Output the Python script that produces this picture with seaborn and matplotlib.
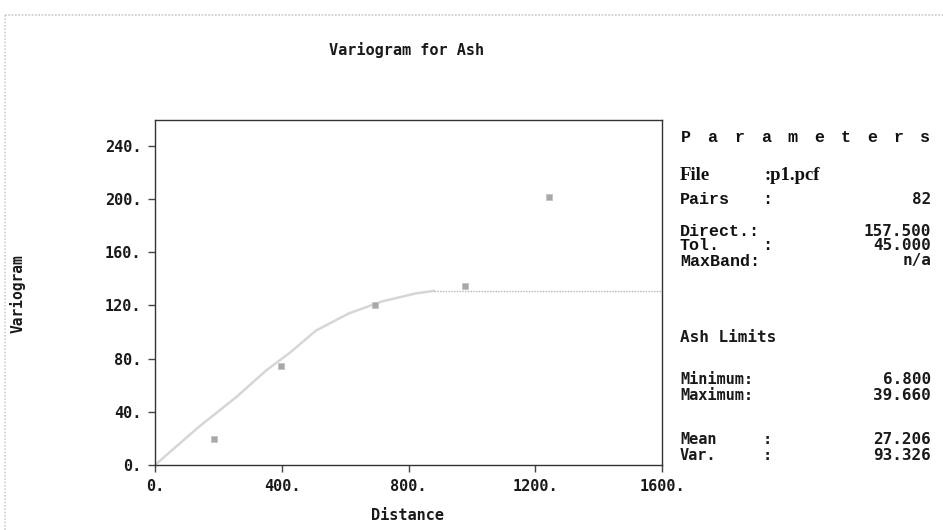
import matplotlib
matplotlib.use("Agg")
import matplotlib.pyplot as plt
import seaborn as sns
import pandas as pd
from matplotlib.lines import Line2D

# ---- data ----
lag_distance = [185, 397, 693, 979, 1243]
lag_gamma = [19.5, 74.5, 120.5, 134.5, 201.5]
model_x = [0, 140, 256, 350, 423, 507, 611, 716, 821, 880]
model_y = [0, 29, 51, 71, 84, 101, 114, 123, 129, 131]
sill_x = [880, 1600]
sill_y = [131, 131]
x_ticks = [0, 400, 800, 1200, 1600]
x_tick_labels = ["0.", "400.", "800.", "1200.", "1600."]
y_ticks = [0, 40, 80, 120, 160, 200, 240]
y_tick_labels = ["0.", "40.", "80.", "120.", "160.", "200.", "240."]

param_rows = [
    # (label, colon_separate, value)
    ("Pairs", True, "82"),
    ("Direct.:", False, "157.500"),
    ("Tol.", True, "45.000"),
    ("MaxBand:", False, "n/a"),
]
limit_rows = [
    ("Minimum:", False, "6.800"),
    ("Maximum:", False, "39.660"),
    ("Mean", True, "27.206"),
    ("Var.", True, "93.326"),
]

sns.set_theme(style="white")
plt.rcParams["font.family"] = ["DejaVu Sans Mono", "DejaVu Sans"]

W, H = 943, 530
fig = plt.figure(figsize=(W / 100, H / 100), dpi=100)
fig.patch.set_facecolor("white")

def fx(px):
    return px / W

def fy(py):
    return 1 - py / H

ax = fig.add_axes([fx(155.3), fy(464.7), (662 - 155.3) / W, (464.7 - 120.3) / H])

df_pts = pd.DataFrame({"Distance": lag_distance, "Variogram": lag_gamma})
df_model = pd.DataFrame({"x": model_x, "y": model_y})
df_sill = pd.DataFrame({"x": sill_x, "y": sill_y})

sns.lineplot(data=df_model, x="x", y="y", ax=ax, color="#d6d6d6", linewidth=1.8,
             sort=False)
sns.lineplot(data=df_sill, x="x", y="y", ax=ax, color="#b4b4b4", linewidth=1.0,
             linestyle=(0, (1, 1)), sort=False)
sns.scatterplot(data=df_pts, x="Distance", y="Variogram", ax=ax, color="#a8a8a8",
                marker="s", s=20, edgecolor="#c4c4c4", linewidth=0.6, zorder=5)

ax.set_xlim(0, 1592)
ax.set_ylim(0, 259.5)
ax.set_xticks(x_ticks)
ax.set_xticklabels(x_tick_labels)
ax.set_yticks(y_ticks)
ax.set_yticklabels(y_tick_labels)
ax.set_xlabel("")
ax.set_ylabel("")
for lab in ax.get_xticklabels() + ax.get_yticklabels():
    lab.set_fontweight("bold")
    lab.set_fontsize(11)
    lab.set_color("#1a1a1a")
ax.tick_params(axis="both", direction="out", length=5, width=1, color="#444444",
               left=True, bottom=True, pad=5)
for sp in ax.spines.values():
    sp.set_visible(True)
    sp.set_color("#333333")
    sp.set_linewidth(1.0)
ax.set_facecolor("white")

mono = dict(family=["DejaVu Sans Mono"], fontweight="bold", color="#1a1a1a")
cour = dict(family=["Liberation Mono"], fontweight="bold", color="#111111")
serif = dict(family=["Liberation Serif"], fontweight="bold", color="#111111")

# titles / axis labels
fig.text(fx(407), fy(50), "Variogram for Ash", ha="center", va="center", fontsize=11, **mono)
fig.text(fx(407), fy(516), "Distance", ha="center", va="center", fontsize=11, **mono)
fig.text(fx(18), fy(294), "Variogram", ha="center", va="center", rotation=90, fontsize=10.5, **mono)

# Parameters heading, spaced letters
word = "Parameters"
start, step = 686, 26.6
for i, ch in enumerate(word):
    fig.text(fx(start + i * step), fy(137), ch, ha="center", va="center", fontsize=12, **cour)

# File line
fig.text(fx(680), fy(175), "File", ha="left", va="center", fontsize=13.5, **serif)
fig.text(fx(765), fy(175), ":p1.pcf", ha="left", va="center", fontsize=13.5, **serif)

ys1 = [200, 232, 246, 261]
for (lab, sep, val), y in zip(param_rows, ys1):
    fig.text(fx(680), fy(y), lab, ha="left", va="center", fontsize=12, **cour)
    if sep:
        fig.text(fx(767), fy(y), ":", ha="center", va="center", fontsize=12, **cour)
    fig.text(fx(931), fy(y), val, ha="right", va="center", fontsize=11.5, **mono)

fig.text(fx(680), fy(338), "Ash Limits", ha="left", va="center", fontsize=11.5, **mono)

ys2 = [380, 395, 440, 456]
for (lab, sep, val), y in zip(limit_rows, ys2):
    fig.text(fx(680), fy(y), lab, ha="left", va="center", fontsize=11, **mono)
    if sep:
        fig.text(fx(767), fy(y), ":", ha="center", va="center", fontsize=11, **mono)
    fig.text(fx(931), fy(y), val, ha="right", va="center", fontsize=11.5, **mono)

# faint frame of the screenshot
fig.add_artist(Line2D([fx(5), fx(943)], [fy(15), fy(15)], color="#c8c8c8", linewidth=1.2,
                      linestyle=(0, (1, 1)), transform=fig.transFigure))
fig.add_artist(Line2D([fx(5), fx(5)], [fy(15), fy(530)], color="#d0d0d0", linewidth=1.2,
                      linestyle=(0, (1, 1)), transform=fig.transFigure))

fig.savefig("out.png", dpi=100, facecolor="white")
